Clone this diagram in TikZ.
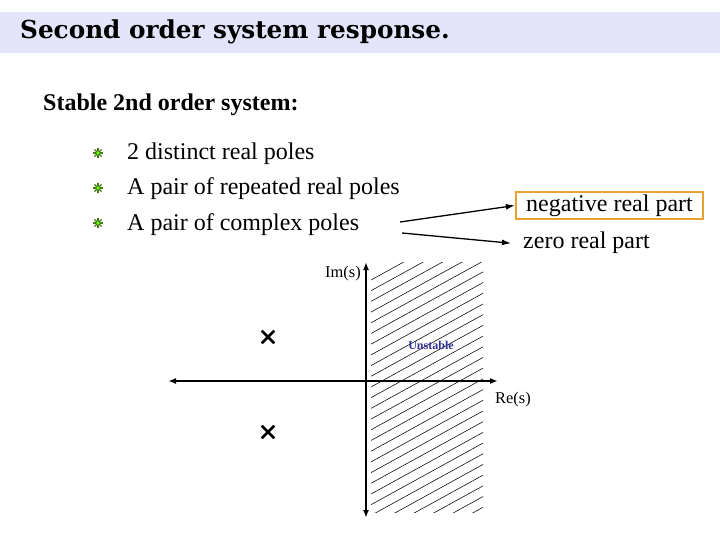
\documentclass[tikz,border=0pt]{standalone}
\usepackage{fontspec}
\setmainfont{Liberation Serif}
\newfontfamily\titlefont{DejaVu Serif}
\usepackage{xcolor}
\usetikzlibrary{arrows.meta, positioning, shapes.misc}

\definecolor{bandcol}{RGB}{228,228,250}
\definecolor{boxcol}{RGB}{232,160,48}
\definecolor{starcol}{RGB}{70,120,20}
\definecolor{navy}{RGB}{51,51,150}

\begin{document}
\begin{tikzpicture}[
    x=1pt, y=-1pt,
    every node/.style={inner sep=0pt},
    titletext/.style={anchor=base west, font=\titlefont\bfseries\fontsize{24.7}{28}\selectfont},
    headtext/.style={anchor=base west, font=\fontsize{24}{28}\selectfont\bfseries},
    itemtext/.style={anchor=base west, font=\fontsize{24}{28}\selectfont},
    negbox/.style={draw=boxcol, line width=2.2pt, minimum width=187pt, minimum height=27pt, font=\fontsize{24}{28}\selectfont},
    axislabel/.style={anchor=base west, font=\fontsize{16.4}{19}\selectfont},
    axis/.style={line width=2.4pt, {Latex[length=8pt,width=6pt]}-{Latex[length=8pt,width=6pt]}},
    pointer/.style={line width=1.3pt, -{Latex[length=9pt,width=6pt]}},
    pole/.style={cross out, draw, line width=2.6pt, minimum size=10pt},
    starbullet/.pic={
        \foreach \a in {0,45,...,315}
            \draw[starcol, line width=1.1pt] (0,0) -- (\a:5pt);
        \fill[green!60!yellow] (0,0) circle (1.8pt);
    }
]
\useasboundingbox (0,0) rectangle (720,540);

% Title band
\fill[bandcol] (0,12) rectangle (720,53);
\node[titletext] (title) at (20,39) {Second order system response.};

% Heading and list
\node[headtext] (head) at (43,111) {Stable 2nd order system:};
\foreach \i/\t in {1/2 distinct real poles, 2/A pair of repeated real poles, 3/A pair of complex poles} {
    \pic at (98,{153+35*(\i-1)}) {starbullet};
    \node[itemtext] (item\i) at (127,{160+35*(\i-1)}) {\t};
}

% Real part cases
\node[negbox] (neg) at (609.5,205.5) {negative real part};
\node[itemtext] (zero) at (523,248) {zero real part};
\coordinate (p1) at (400,222);
\coordinate (p2) at (402,233);
\draw[pointer] (p1) -- (neg.west);
\draw[pointer] (p2) -- ([xshift=-12pt,yshift=-1pt]zero.west);

% Unstable half plane
\begin{scope}
    \clip (371,262) rectangle (483,512);
    \foreach \k in {0,...,38}
        \draw[line width=0.55pt] (371,{280+10.7*\k}) -- ++(200,-110);
\end{scope}
\node[font=\fontsize{12}{14}\selectfont\bfseries, text=navy] (unst) at (431,345) {Unstable};

% Axes
\coordinate (imtop) at (366,262);
\coordinate (imbot) at (366,518);
\coordinate (releft) at (168,381);
\coordinate (reright) at (498,381);
\draw[axis] (imbot) -- (imtop);
\draw[axis] (releft) -- (reright);
\node[axislabel] (im) at (325,277) {Im(s)};
\node[axislabel] (re) at (495,403) {Re(s)};

% Poles
\node[pole] (pa) at (268,337) {};
\node[pole] (pb) at (268,432) {};

\end{tikzpicture}
\end{document}
